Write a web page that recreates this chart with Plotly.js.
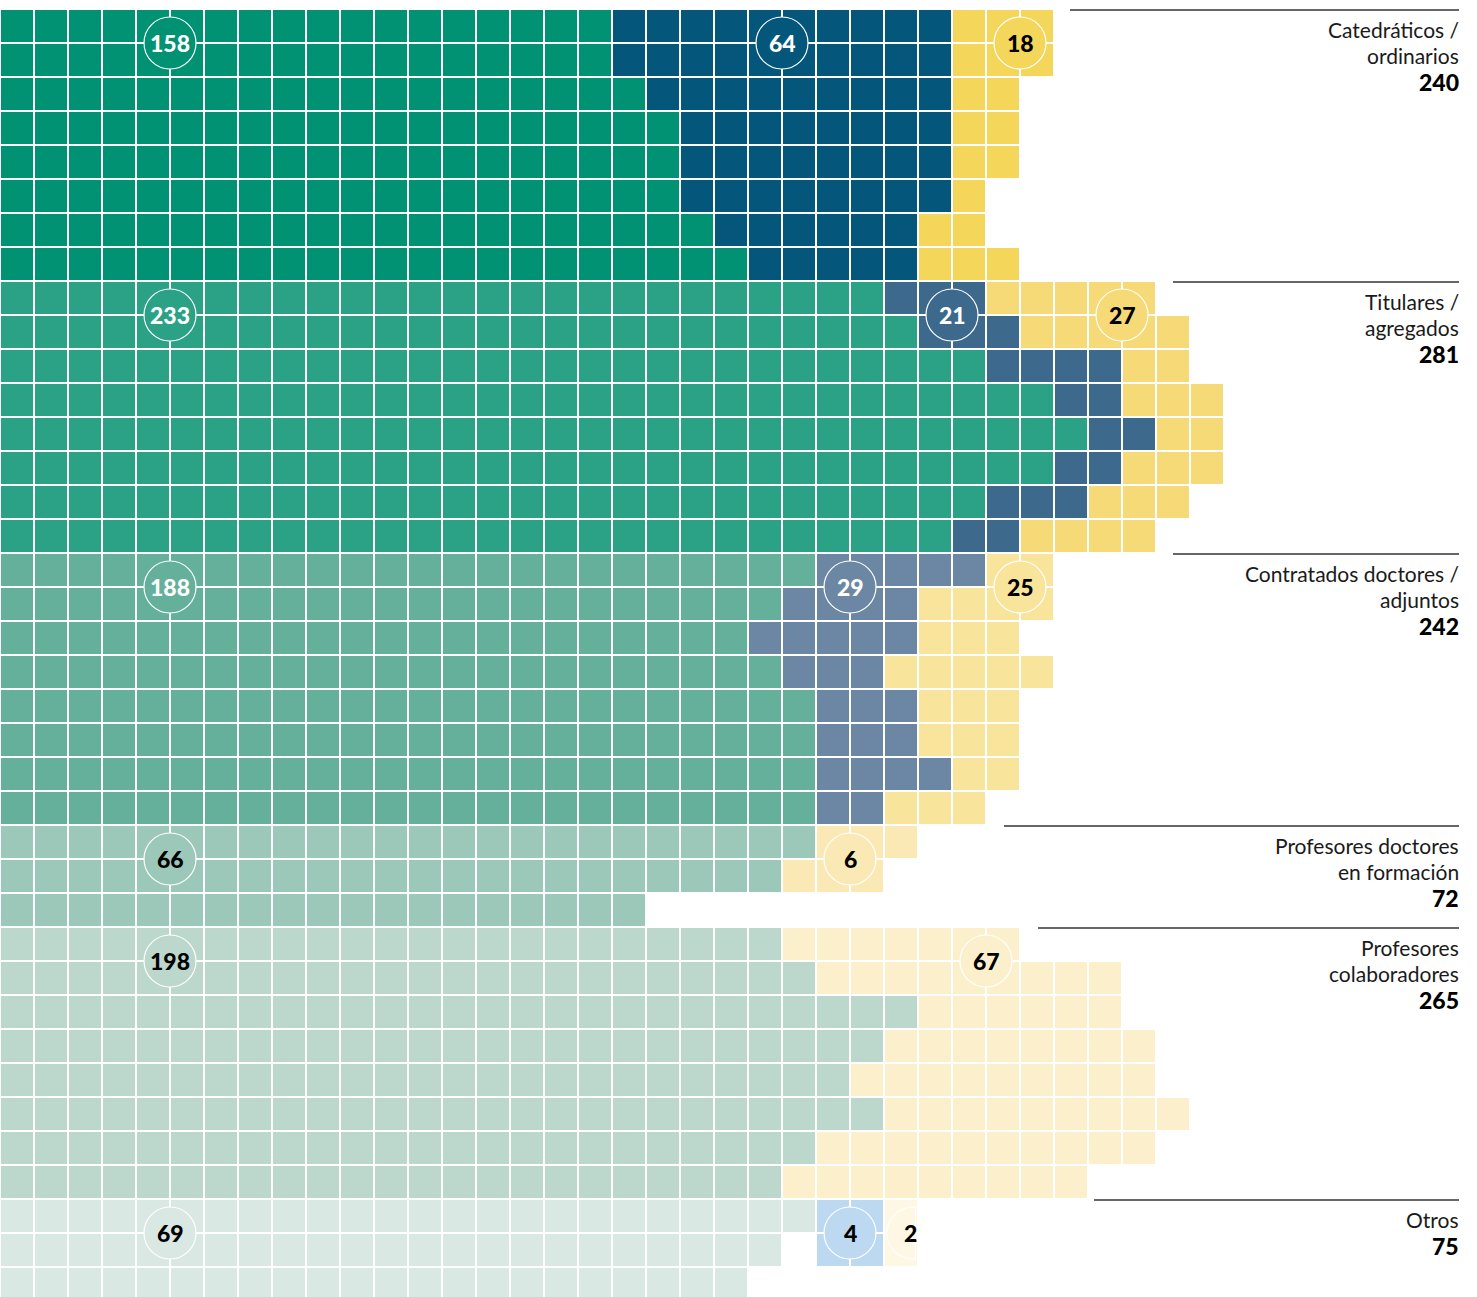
<!DOCTYPE html>
<html>
<head>
<meta charset="utf-8">
<script src="https://cdn.plot.ly/plotly-3.0.1.min.js"></script>
<style>
html,body{margin:0;padding:0;background:#ffffff;}
#chart{width:1477px;height:1297px;}
</style>
</head>
<body>
<div id="chart"></div>
<script>
// ---------------- DATA ----------------
const groupLabelLines = [
  ["Catedráticos /", "ordinarios"],
  ["Titulares /", "agregados"],
  ["Contratados doctores /", "adjuntos"],
  ["Profesores doctores", "en formación"],
  ["Profesores", "colaboradores"],
  ["Otros"]
];
const groupTotals  = [240, 281, 242, 72, 265, 75];
const greenTotals  = [158, 233, 188, 66, 198, 69];
const blueTotals   = [64, 21, 29, 0, 0, 4];
const yellowTotals = [18, 27, 25, 6, 67, 2];

// cells per row (waffle rows, top to bottom) for each group
const catGreen  = [18, 18, 19, 20, 20, 20, 21, 22];
const catBlue   = [10, 10, 9, 8, 8, 8, 6, 5];
const catYellow = [3, 3, 2, 2, 2, 1, 2, 3];

const titGreen  = [26, 27, 29, 31, 32, 31, 29, 28];
const titBlue   = [3, 3, 4, 2, 2, 2, 3, 2];
const titYellow = [5, 5, 2, 3, 2, 3, 3, 4];

const conGreen  = [24, 23, 22, 23, 24, 24, 24, 24];
const conBlue   = [5, 4, 5, 3, 3, 3, 4, 2];
const conYellow = [2, 4, 3, 5, 3, 3, 2, 3];

const forGreen  = [24, 23, 19];
const forBlue   = [0, 0, 0];
const forYellow = [3, 3, 0];

const colGreen  = [23, 24, 27, 26, 25, 26, 24, 23];
const colBlue   = [0, 0, 0, 0, 0, 0, 0, 0];
const colYellow = [7, 9, 6, 8, 9, 9, 10, 9];

const otrGreen  = [24, 23, 22];
const otrGap    = [0, 1, 0];
const otrBlue   = [2, 2, 0];
const otrYellow = [1, 1, 0];

// ---------------- STYLE / LAYOUT CONSTANTS ----------------
const CELL = 34;            // px per cell
const TOP = 9;              // px offset of first row
const W = 1477, H = 1297;
const NCOLS = 43;
const FONT = "Lato, 'Open Sans', sans-serif";

const palette = [
  ["#009273", "#04567b", "#f4d65a"],
  ["#2ba186", "#3c698c", "#f6da77"],
  ["#64b09a", "#6b87a4", "#f9e49c"],
  ["#9bc8b9", "#6b87a4", "#fbe9b5"],
  ["#bcd8cd", "#6b87a4", "#fcf0cc"],
  ["#dae8e3", "#bcd9f1", "#fef7e3"]
];
const textColors = [
  ["#ffffff", "#ffffff", "#000000"],
  ["#ffffff", "#ffffff", "#000000"],
  ["#ffffff", "#ffffff", "#000000"],
  ["#000000", "#000000", "#000000"],
  ["#000000", "#000000", "#000000"],
  ["#000000", "#000000", "#000000"]
];
// circle anchor columns (grid lines) for green / blue / yellow labels
const circleCols = [
  [5, 23, 30],
  [5, 28, 33],
  [5, 25, 30],
  [5, null, 25],
  [5, null, 29],
  [5, 25, 26.85]
];
const lineStartPx = [1070, 1173, 1173, 1004, 1038, 1094];
const LABEL_RIGHT_PX = 1459;
const TEXT_RIGHT_PX = 1461;

// ---------------- BUILD ----------------
const groupsRows = [
  [catGreen, null, catBlue, catYellow],
  [titGreen, null, titBlue, titYellow],
  [conGreen, null, conBlue, conYellow],
  [forGreen, null, forBlue, forYellow],
  [colGreen, null, colBlue, colYellow],
  [otrGreen, otrGap, otrBlue, otrYellow]
];
const NROWS = groupsRows.reduce((s, g) => s + g[0].length, 0);

function emptyGrid() {
  const z = [];
  for (let r = 0; r < NROWS; r++) z.push(new Array(NCOLS).fill(null));
  return z;
}
const grids = palette.map(() => [emptyGrid(), emptyGrid(), emptyGrid()]);
const groupTops = [];
let row = 0;
groupsRows.forEach((g, gi) => {
  groupTops.push(row);
  const [gr, gap, bl, ye] = g;
  for (let i = 0; i < gr.length; i++) {
    let c = 0;
    const segs = [[0, gr[i]], [-1, gap ? gap[i] : 0], [1, bl[i]], [2, ye[i]]];
    segs.forEach(([cat, n]) => {
      for (let k = 0; k < n; k++) {
        if (cat >= 0) grids[gi][cat][row][c] = 1;
        c++;
      }
    });
    row++;
  }
});

const xs = Array.from({length: NCOLS}, (_, i) => i + 0.5);
const ys = Array.from({length: NROWS}, (_, i) => i + 0.5);

const traces = [];
grids.forEach((cats, gi) => {
  cats.forEach((z, ci) => {
    if (!z.some(r => r.some(v => v !== null))) return;
    traces.push({
      type: "heatmap", x: xs, y: ys, z: z,
      colorscale: [[0, palette[gi][ci]], [1, palette[gi][ci]]],
      zmin: 0, zmax: 1, showscale: false,
      xgap: 2, ygap: 2, hoverinfo: "skip"
    });
  });
});

const shapes = [];
const annotations = [];
const totalsByCat = [greenTotals, blueTotals, yellowTotals];

groupTops.forEach((top, gi) => {
  const yc = top + 1; // first row boundary inside the group
  for (let ci = 0; ci < 3; ci++) {
    const col = circleCols[gi][ci];
    const val = totalsByCat[ci][gi];
    if (col === null || !val) continue;
    if (gi === 5 && ci === 2) {
      // clipped circle
      const r = 26, clip = 2.5;
      const t0 = Math.acos(clip / r);
      let p = "";
      const N = 40;
      for (let k = 0; k <= N; k++) {
        const t = t0 + (2 * Math.PI - 2 * t0) * k / N;
        p += (k === 0 ? "M" : "L") + (r * Math.cos(t)).toFixed(2) + "," + (r * Math.sin(t)).toFixed(2) + " ";
      }
      p += "Z";
      shapes.push({
        type: "path", xref: "x", yref: "y", xsizemode: "pixel", ysizemode: "pixel",
        xanchor: col, yanchor: yc, path: p,
        fillcolor: palette[gi][ci], line: {color: "#ffffff", width: 1.2}, layer: "above"
      });
      annotations.push({
        x: col - 0.06, y: yc, xref: "x", yref: "y", text: String(val), showarrow: false,
        xanchor: "center", yanchor: "middle",
        font: {family: FONT, size: 23, color: textColors[gi][ci], weight: 900}
      });
      continue;
    }
    shapes.push({
      type: "circle", xref: "x", yref: "y", xsizemode: "pixel", ysizemode: "pixel",
      xanchor: col, yanchor: yc, x0: -26, x1: 26, y0: -26, y1: 26,
      fillcolor: palette[gi][ci], line: {color: "#ffffff", width: 1.2}, layer: "above"
    });
    annotations.push({
      x: col, y: yc, xref: "x", yref: "y", text: String(val), showarrow: false,
      xanchor: "center", yanchor: "middle",
      font: {family: FONT, size: 23, color: textColors[gi][ci], weight: 900}
    });
  }

  // separator line
  shapes.push({
    type: "line", xref: "x", yref: "y",
    x0: lineStartPx[gi] / CELL, x1: LABEL_RIGHT_PX / CELL,
    y0: top + 1 / CELL, y1: top + 1 / CELL,
    line: {color: "#333333", width: 1.5}, layer: "above"
  });

  // right labels
  const lines = groupLabelLines[gi];
  lines.forEach((t, i) => {
    annotations.push({
      xref: "paper", x: TEXT_RIGHT_PX / W, yref: "y", y: top + (20 + 26 * i) / CELL,
      text: t, showarrow: false, xanchor: "right", yanchor: "middle",
      font: {family: FONT, size: 21, color: "#1a1a1a"}
    });
  });
  annotations.push({
    xref: "paper", x: TEXT_RIGHT_PX / W, yref: "y", y: top + (21 + 26 * lines.length) / CELL,
    text: String(groupTotals[gi]), showarrow: false, xanchor: "right", yanchor: "middle",
    font: {family: FONT, size: 23, color: "#000000", weight: 900}
  });
});

const layout = {
  width: W, height: H, autosize: false,
  margin: {l: 0, r: 0, t: 0, b: 0, pad: 0},
  paper_bgcolor: "#ffffff", plot_bgcolor: "#ffffff",
  showlegend: false,
  xaxis: {range: [0, W / CELL], visible: false, fixedrange: true},
  yaxis: {range: [(H - TOP) / CELL, -TOP / CELL], visible: false, fixedrange: true},
  shapes: shapes,
  annotations: annotations,
  font: {family: FONT}
};

Plotly.newPlot("chart", traces, layout, {displayModeBar: false, staticPlot: true});
</script>
</body>
</html>
